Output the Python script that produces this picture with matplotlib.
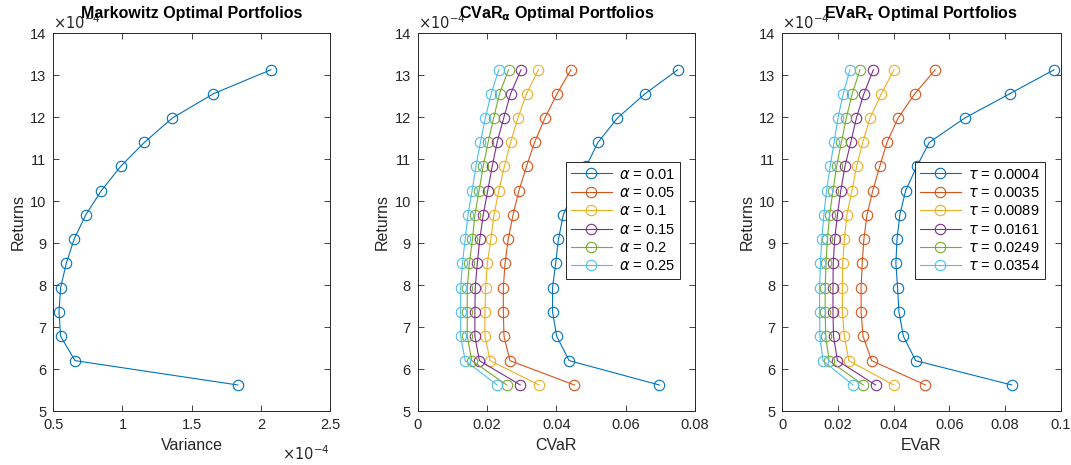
import matplotlib
matplotlib.use("Agg")
import matplotlib.pyplot as plt
from matplotlib.ticker import FuncFormatter, MultipleLocator

plt.rcParams['font.family'] = ['Liberation Sans', 'DejaVu Sans']
plt.rcParams['mathtext.fontset'] = 'dejavusans'

# Returns (x 1e-4), shared by all frontiers
returns = [5.62, 6.20, 6.78, 7.36, 7.94, 8.52, 9.09, 9.67, 10.25, 10.83, 11.40, 11.98, 12.56, 13.13]

# Markowitz variance (x 1e-4)
variance = [1.833, 0.657, 0.553, 0.541, 0.553, 0.594, 0.650, 0.734, 0.847, 0.987, 1.158, 1.360, 1.657, 2.072]

alpha_labels = ['0.01', '0.05', '0.1', '0.15', '0.2', '0.25']
cvar_001 = [0.0697, 0.0437, 0.0401, 0.0389, 0.0389, 0.0398, 0.0406, 0.0420, 0.0449, 0.0486, 0.0520, 0.0576, 0.0656, 0.0750]
cvar_005 = [0.0452, 0.0266, 0.0249, 0.0247, 0.0247, 0.0252, 0.0261, 0.0275, 0.0292, 0.0314, 0.0337, 0.0367, 0.0402, 0.0442]
cvar_010 = [0.0350, 0.0209, 0.0194, 0.0194, 0.0196, 0.0201, 0.0211, 0.0220, 0.0234, 0.0250, 0.0268, 0.0289, 0.0314, 0.0348]
cvar_015 = [0.0296, 0.0178, 0.0165, 0.0165, 0.0166, 0.0172, 0.0179, 0.0189, 0.0202, 0.0215, 0.0229, 0.0248, 0.0268, 0.0298]
cvar_020 = [0.0257, 0.0156, 0.0143, 0.0143, 0.0143, 0.0149, 0.0158, 0.0165, 0.0177, 0.0189, 0.0203, 0.0219, 0.0236, 0.0262]
cvar_025 = [0.0229, 0.0137, 0.0124, 0.0124, 0.0124, 0.0129, 0.0137, 0.0145, 0.0157, 0.0168, 0.0181, 0.0195, 0.0212, 0.0234]

tau_labels = ['0.0004', '0.0035', '0.0089', '0.0161', '0.0249', '0.0354']
evar_1 = [0.0824, 0.0479, 0.0435, 0.0419, 0.0414, 0.0408, 0.0412, 0.0422, 0.0443, 0.0483, 0.0528, 0.0655, 0.0817, 0.0976]
evar_2 = [0.0514, 0.0321, 0.0290, 0.0283, 0.0283, 0.0287, 0.0293, 0.0304, 0.0325, 0.0350, 0.0376, 0.0416, 0.0476, 0.0549]
evar_3 = [0.0400, 0.0239, 0.0223, 0.0216, 0.0216, 0.0217, 0.0223, 0.0232, 0.0250, 0.0267, 0.0289, 0.0315, 0.0356, 0.0401]
evar_4 = [0.0335, 0.0198, 0.0184, 0.0182, 0.0182, 0.0183, 0.0188, 0.0198, 0.0210, 0.0225, 0.0246, 0.0266, 0.0293, 0.0327]
evar_5 = [0.0291, 0.0168, 0.0156, 0.0154, 0.0154, 0.0157, 0.0162, 0.0170, 0.0182, 0.0195, 0.0212, 0.0230, 0.0251, 0.0279]
evar_6 = [0.0254, 0.0146, 0.0135, 0.0134, 0.0134, 0.0137, 0.0142, 0.0149, 0.0159, 0.0172, 0.0186, 0.0200, 0.0219, 0.0243]

colors = ['#0072BD', '#D95319', '#EDB120', '#7E2F8E', '#77AC30', '#4DBEEE']
gray = '#262626'

fig = plt.figure(figsize=(10.71, 4.65), dpi=100)
W, H = 1071, 465
def add_ax(x0, x1, y0=33.3, y1=411):
    return fig.add_axes([x0 / W, (H - y1) / H, (x1 - x0) / W, (y1 - y0) / H])

ax1 = add_ax(53.3, 330)
ax2 = add_ax(417.7, 695)
ax3 = add_ax(782.3, 1060.7)

fmt = FuncFormatter(lambda v, p: '%g' % round(v, 6))

def style(ax):
    ax.set_ylim(5, 14)
    ax.yaxis.set_major_locator(MultipleLocator(1))
    ax.tick_params(direction='in', top=True, right=True, length=4, width=0.6,
                   colors=gray, labelsize=10.5, labelcolor=gray, pad=5)
    for s in ax.spines.values():
        s.set_color(gray)
        s.set_linewidth(0.7)
    ax.xaxis.set_major_formatter(fmt)
    ax.yaxis.set_major_formatter(fmt)
    ax.set_ylabel('Returns', fontsize=11.5, color=gray, labelpad=3)
    ax.text(0.0, 1.004, r'$\times10^{-4}$', transform=ax.transAxes, ha='left', va='bottom',
            fontsize=10.5, color=gray)

mk = dict(marker='o', markerfacecolor='none', markersize=7.5, linewidth=0.8, markeredgewidth=0.8)

# Markowitz
ax1.plot(variance, returns, color=colors[0], **mk)
style(ax1)
ax1.set_xlim(0.5, 2.5)
ax1.xaxis.set_major_locator(MultipleLocator(0.5))
ax1.set_xlabel('Variance', fontsize=11.5, color=gray, labelpad=4)
ax1.text(1.0, -0.088, r'$\times10^{-4}$', transform=ax1.transAxes, ha='right', va='top',
         fontsize=10.5, color=gray)
ax1.set_title('Markowitz Optimal Portfolios', fontsize=11.5, fontweight='bold', pad=11)

# CVaR
cvars = [cvar_001, cvar_005, cvar_010, cvar_015, cvar_020, cvar_025]
for c, lab, vals in zip(colors, alpha_labels, cvars):
    ax2.plot(vals, returns, color=c, label=r'$\alpha$ = ' + lab, **mk)
style(ax2)
ax2.set_xlim(0, 0.08)
ax2.xaxis.set_major_locator(MultipleLocator(0.02))
ax2.set_xlabel('CVaR', fontsize=11.5, color=gray, labelpad=4)
ax2.set_title(r'CVaR$_{\mathbf{\alpha}}$ Optimal Portfolios', fontsize=11.5, fontweight='bold', pad=11)
leg2 = ax2.legend(loc='upper right', bbox_to_anchor=(0.946, 0.658), fontsize=10.5,
                  fancybox=False, edgecolor=gray, framealpha=1, handlelength=2.8,
                  borderpad=0.35, labelspacing=0.3, handletextpad=0.5, borderaxespad=0)
leg2.get_frame().set_linewidth(0.7)

# EVaR
evars = [evar_1, evar_2, evar_3, evar_4, evar_5, evar_6]
for c, lab, vals in zip(colors, tau_labels, evars):
    ax3.plot(vals, returns, color=c, label=r'$\tau$ = ' + lab, **mk)
style(ax3)
ax3.set_xlim(0, 0.1)
ax3.xaxis.set_major_locator(MultipleLocator(0.02))
ax3.set_xlabel('EVaR', fontsize=11.5, color=gray, labelpad=4)
ax3.set_title(r'EVaR$_{\mathbf{\tau}}$ Optimal Portfolios', fontsize=11.5, fontweight='bold', pad=11)
leg3 = ax3.legend(loc='upper right', bbox_to_anchor=(0.944, 0.658), fontsize=10.5,
                  fancybox=False, edgecolor=gray, framealpha=1, handlelength=2.8,
                  borderpad=0.35, labelspacing=0.3, handletextpad=0.5, borderaxespad=0)
leg3.get_frame().set_linewidth(0.7)

fig.savefig('out.png', dpi=100)
